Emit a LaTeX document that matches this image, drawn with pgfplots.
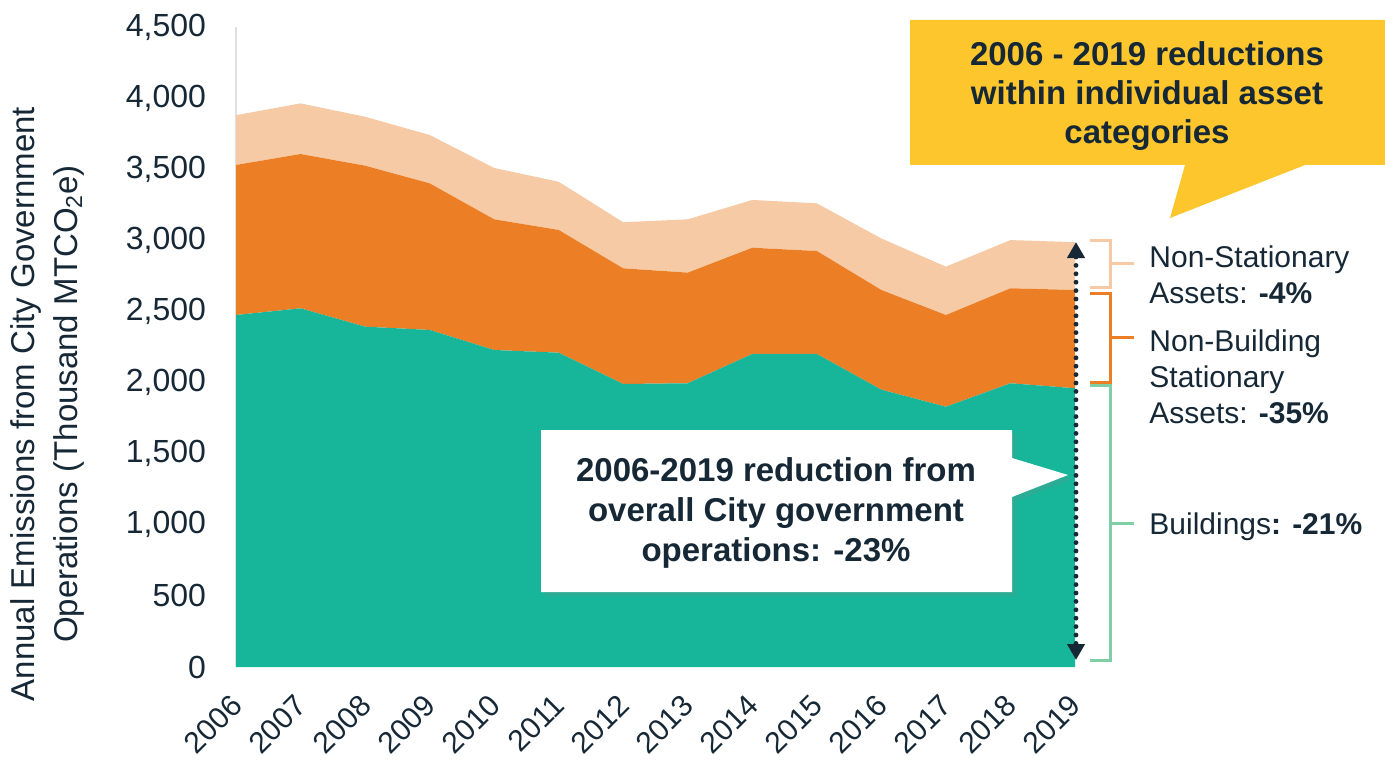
\documentclass[border=0pt]{standalone}
\usepackage{fontspec}
\setmainfont{Liberation Sans}
\usepackage{pgfplots}
\pgfplotsset{compat=1.18}
\usepackage{pgfplotstable}
\usetikzlibrary{arrows.meta,shadows}
\definecolor{cteal}{RGB}{23,182,155}
\definecolor{corange}{RGB}{236,126,38}
\definecolor{cpeach}{RGB}{247,202,166}
\definecolor{cyellow}{RGB}{253,198,44}
\definecolor{ctext}{RGB}{22,40,54}
\definecolor{cgreen}{RGB}{128,206,165}
\pgfplotstableread{
year b nb ns
2006 2475 1055 350
2007 2522 1085 356
2008 2393 1132 344
2009 2370 1031 340
2010 2229 919 361
2011 2210 863 339
2012 1990 813 324
2013 1995 778 375
2014 2201 747 336
2015 2201 724 335
2016 1950 701 362
2017 1830 645 340
2018 1995 668 339
2019 1960 691 336
}\datatable
\begin{document}
\begin{tikzpicture}
\path[use as bounding box] (0,0) rectangle (692.5pt,381pt);
\begin{axis}[
  at={(118pt,47.5pt)}, anchor=south west,
  scale only axis, width=419.5pt, height=320pt,
  xmin=2006, xmax=2019, ymin=0, ymax=4500,
  xtick={2006,2007,...,2019}, ytick={0,500,...,4500},
  stack plots=y,
  axis x line*=bottom, axis y line*=left,
  x axis line style={draw=none},
  y axis line style={draw=black!12, line width=0.6pt},
  major tick length=0pt,
  /pgf/number format/assume math mode=true,
  tick label style={text=ctext},
  yticklabel style={font=\fontsize{16}{19}\selectfont, xshift=-11.5pt, /pgf/number format/1000 sep={,}},
  xticklabel style={font=\fontsize{15}{18}\selectfont, xshift=-3.5pt, yshift=-8pt, rotate=45, anchor=north east, /pgf/number format/1000 sep={}},
]
\addplot[fill=cteal, draw=none] table[x=year,y=b] {\datatable} \closedcycle;
\addplot[fill=corange, draw=none] table[x=year,y=nb] {\datatable} \closedcycle;
\addplot[fill=cpeach, draw=none] table[x=year,y=ns] {\datatable} \closedcycle;
\end{axis}
\begin{scope}[x=0.5pt,y=-0.5pt,yshift=381pt]
  % y label
  \node[rotate=90, align=center, text=ctext, font=\fontsize{16.5}{21.5}\selectfont] at (47,404)
    {Annual Emissions from City Government\\Operations (Thousand MTCO\textsubscript{2}e)};
  % white callout
  \fill[white, drop shadow={shadow xshift=2pt, shadow yshift=-2pt, opacity=0.2}]
    (541,430) -- (1012,430) -- (1012,458) -- (1068,475) -- (1012,497) -- (1012,592) -- (541,592) -- cycle;
  \node[align=center, text=ctext, font=\fontsize{16.5}{20}\bfseries] at (776,513)
    {2006-2019 reduction from\\overall City government\\operations: -23\%};
  % dotted arrow
  \draw[ctext, line width=2.4pt, dash pattern=on 0pt off 4.2pt, line cap=round,
        {Triangle[length=8pt,width=8.5pt]}-{Triangle[length=8pt,width=8.5pt]}]
        (1076,242) -- (1076,660);
  % yellow callout
  \fill[cyellow] (910,20) -- (1385,20) -- (1385,165) -- (1305,165) -- (1170,218) -- (1185,165) -- (910,165) -- cycle;
  \node[align=center, text=ctext, font=\fontsize{16.5}{19.5}\bfseries] at (1147,96)
    {2006 - 2019 reductions\\within individual asset\\categories};
  % brackets
  \draw[cpeach, line width=1.5pt] (1090,240) -- (1110,240) -- (1110,287) -- (1090,287);
  \draw[cpeach, line width=1.5pt] (1110,263) -- (1134,263);
  \draw[corange, line width=1.5pt] (1090,293) -- (1110,293) -- (1110,382) -- (1090,382);
  \draw[corange, line width=1.5pt] (1110,337) -- (1134,337);
  \draw[cgreen, line width=1.5pt] (1090,385) -- (1110,385) -- (1110,660) -- (1090,660);
  \draw[cgreen, line width=1.5pt] (1110,523) -- (1134,523);
  % right labels
  \node[anchor=west, inner sep=0pt, align=left, text=ctext, font=\fontsize{15}{18}\selectfont] at (1149,275)
    {Non-Stationary\\Assets: \textbf{-4\%}};
  \node[anchor=west, inner sep=0pt, align=left, text=ctext, font=\fontsize{15}{18}\selectfont] at (1149,377)
    {Non-Building\\Stationary\\Assets: \textbf{-35\%}};
  \node[anchor=west, inner sep=0pt, align=left, text=ctext, font=\fontsize{15}{18}\selectfont] at (1149,527)
    {Buildings\textbf{: -21\%}};
\end{scope}
\end{tikzpicture}
\end{document}
